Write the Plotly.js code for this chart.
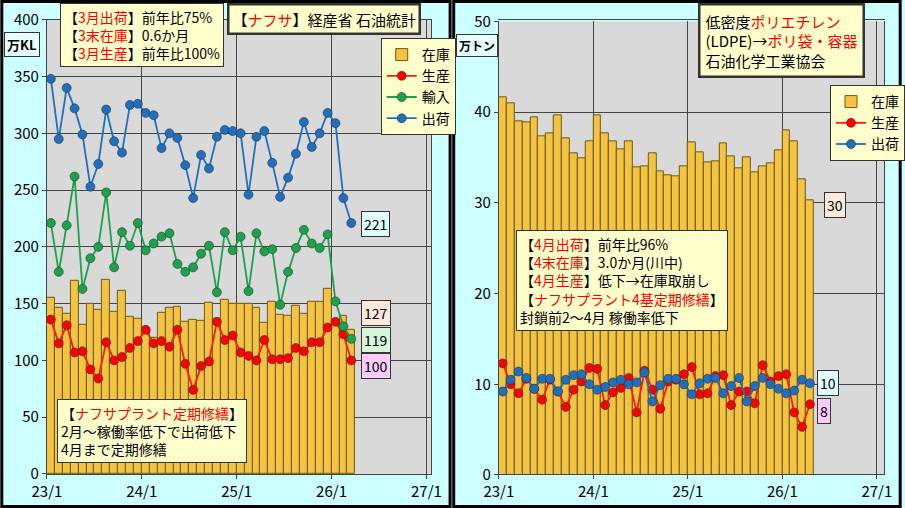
<!DOCTYPE html>
<html><head><meta charset="utf-8">
<script src="https://cdn.plot.ly/plotly-3.0.1.min.js"></script>
<style>body{margin:0;background:#ccffff}#chart{width:905px;height:508px}</style>
</head><body><div id="chart"></div>
<script>
// ナフサ (万KL), 23/1 - 26/3
var naphthaStock = [155,146,141,170,131,150,145,171,143,161,138,137,127,120,142,146,147,134,136,135,151,137,153,150,150,150,146,133,152,140,139,148,141,152,152,163,135,139,127];
var naphthaProd = [136,115,131,107,108,92,84,116,100,103,111,117,127,115,117,112,127,97,74,95,99,134,118,122,107,104,100,118,101,101,102,111,108,116,116,129,134,123,100];
var naphthaImport = [221,178,219,262,163,190,200,248,182,213,201,221,197,203,209,212,185,178,182,194,201,160,213,197,209,161,212,196,198,149,178,199,215,203,199,211,152,130,119];
var naphthaShip = [348,295,340,322,299,253,273,321,293,283,325,326,318,316,287,300,296,272,243,281,269,297,303,302,300,246,297,302,274,244,261,282,310,288,300,318,309,243,221];
// LDPE (万トン), 23/1 - 26/4
var ldpeStock = [41.6,41.0,39.0,38.9,39.4,37.3,37.7,39.6,37.1,35.4,34.9,36.8,39.6,37.7,36.8,35.9,36.8,33.9,34.0,35.5,33.5,33.0,32.9,34.0,36.7,35.6,34.5,34.6,36.5,35.1,33.8,35.0,33.4,34.0,34.4,35.8,38.0,36.8,32.6,30.3];
var ldpeProd = [12.3,10.0,9.0,10.6,9.5,8.3,10.5,9.2,7.5,9.4,10.3,11.8,11.7,7.7,9.1,9.6,10.7,6.9,11.5,9.4,7.3,10.3,10.5,11.1,11.9,8.9,9.0,10.9,11.0,7.7,9.2,9.2,7.9,12.1,10.3,10.9,11.1,6.9,5.3,7.8];
var ldpeShip = [9.2,10.5,11.4,10.7,9.5,10.6,10.6,9.2,10.5,11.0,11.1,10.0,9.4,9.7,10.2,10.5,10.0,10.2,11.3,8.1,9.9,10.6,10.6,10.0,8.9,10.1,10.6,10.7,9.0,9.8,10.7,8.1,9.8,10.7,10.0,9.5,9.0,9.3,10.5,10.1];
var tickVals = [0,12,24,36,48];
var tickText = ['23/1','24/1','25/1','26/1','27/1'];

function months(arr) { return arr.map(function(v, i) { return i + 0.5; }); }

var F = '"Noto Sans CJK JP", sans-serif';
var barStyle = {color: '#f4c343', line: {color: '#6b5a10', width: 1}};
function line(color) { return {color: color, width: 1.8}; }
function mk(color) { return {color: color, size: 9, line: {color: '#333', width: 0.6}}; }

var data = [
    {x: months(naphthaStock), y: naphthaStock, type: 'bar', name: '在庫', marker: barStyle, xaxis: 'x', yaxis: 'y', legend: 'legend'},
    {x: months(naphthaProd), y: naphthaProd, type: 'scatter', mode: 'lines+markers', name: '生産', line: line('#ff1a00'), marker: mk('#ff0000'), xaxis: 'x', yaxis: 'y', legend: 'legend'},
    {x: months(naphthaImport), y: naphthaImport, type: 'scatter', mode: 'lines+markers', name: '輸入', line: line('#1aa34a'), marker: mk('#1aa34a'), xaxis: 'x', yaxis: 'y', legend: 'legend'},
    {x: months(naphthaShip), y: naphthaShip, type: 'scatter', mode: 'lines+markers', name: '出荷', line: line('#1f6fc0'), marker: mk('#1f6fc0'), xaxis: 'x', yaxis: 'y', legend: 'legend'},
    {x: months(ldpeStock), y: ldpeStock, type: 'bar', name: '在庫', marker: barStyle, xaxis: 'x2', yaxis: 'y2', legend: 'legend2'},
    {x: months(ldpeProd), y: ldpeProd, type: 'scatter', mode: 'lines+markers', name: '生産', line: line('#ff1a00'), marker: mk('#ff0000'), xaxis: 'x2', yaxis: 'y2', legend: 'legend2'},
    {x: months(ldpeShip), y: ldpeShip, type: 'scatter', mode: 'lines+markers', name: '出荷', line: line('#1f6fc0'), marker: mk('#1f6fc0'), xaxis: 'x2', yaxis: 'y2', legend: 'legend2'}
];

function xax(domain, right) {
    return {domain: domain, range: [0, right], tickvals: tickVals, ticktext: tickText, showgrid: true,
        gridcolor: '#444', gridwidth: 1, zeroline: false, showline: true, linecolor: '#444', mirror: true,
        ticks: 'outside', ticklen: 4, tickfont: {family: F, size: 15, color: '#000'}};
}
function yax(domain, range, dtick, anchor) {
    return {domain: domain, range: range, dtick: dtick, anchor: anchor, gridcolor: '#444', gridwidth: 1,
        zeroline: false, showline: true, linecolor: '#444', mirror: true, ticks: 'outside', ticklen: 4,
        tickfont: {family: F, size: 15, color: '#000'}};
}

function box(x, y, text, opts) {
    var a = {xref: 'paper', yref: 'paper', x: x / 905, y: 1 - y / 508, xanchor: 'left', yanchor: 'top',
        text: text, showarrow: false, align: 'left', bgcolor: '#ffffcc', bordercolor: '#333', borderwidth: 1,
        borderpad: 3, font: {family: F, size: 14, color: '#000'}};
    for (var k in opts) a[k] = opts[k];
    return a;
}
function red(s) { return '<span style="color:#ff0000">' + s + '</span>'; }

var annotations = [
    box(60, 3, '【' + red('3月出荷') + '】前年比75%<br>【' + red('3末在庫') + '】0.6か月<br>【' + red('3月生産') + '】前年比100%', {}),
    box(228, 3, '【' + red('ナフサ') + '】経産省 石油統計', {borderwidth: 2.5, font: {family: F, size: 15, color: '#000'}}),
    box(57, 399, '【' + red('ナフサプラント定期修繕') + '】<br>2月～稼働率低下で出荷低下<br>4月まで定期修繕', {}),
    box(4, 32, '<b>万KL</b>', {bgcolor: '#e8ffff', font: {family: F, size: 13, color: '#000'}, borderpad: 2}),
    box(362, 211, '221', {bgcolor: '#e0ffff', borderpad: 2}),
    box(362, 300, '127', {bgcolor: '#fde9dc', borderpad: 2}),
    box(362, 327, '119', {bgcolor: '#d8f5d8', borderpad: 2}),
    box(362, 353, '100', {bgcolor: '#ffccff', borderpad: 2}),
    box(700, 3, '低密度' + red('ポリエチレン') + '<br>(LDPE)→' + red('ポリ袋・容器') + '<br>石油化学工業協会', {borderwidth: 2.5, font: {family: F, size: 15, color: '#000'}, borderpad: 5}),
    box(518, 230, '【' + red('4月出荷') + '】前年比96%<br>【' + red('4末在庫') + '】3.0か月(川中)<br>【' + red('4月生産') + '】低下→在庫取崩し<br>【' + red('ナフサプラント4基定期修繕') + '】<br>封鎖前2～4月 稼働率低下', {font: {family: F, size: 14, color: '#000'}}),
    box(458, 34, '<b>万トン</b>', {bgcolor: '#e8ffff', font: {family: F, size: 12, color: '#000'}, borderpad: 2}),
    box(827, 192, '30', {bgcolor: '#fde9dc', borderpad: 2}),
    box(820, 370, '10', {bgcolor: '#e0ffff', borderpad: 2}),
    box(820, 398, '8', {bgcolor: '#ffccff', borderpad: 2})
];

var legendBase = {bgcolor: '#ffffcc', bordercolor: '#333', borderwidth: 1, xanchor: 'left', yanchor: 'top',
    font: {family: F, size: 14, color: '#000'}, tracegroupgap: 0, itemwidth: 30};

var layout = {
    width: 905, height: 508, margin: {l: 0, r: 0, t: 0, b: 0},
    paper_bgcolor: '#ccffff', plot_bgcolor: '#d9d9d9', barmode: 'overlay', bargap: 0,
    xaxis: xax([0.052, 0.478], 48.6),
    yaxis: yax([0.067, 0.961], [0, 400], 50, 'x'),
    xaxis2: xax([0.553, 0.980], 48.9),
    yaxis2: yax([0.065, 0.958], [0, 50], 10, 'x2'),
    legend: Object.assign({x: 382 / 905, y: 1 - 38 / 508}, legendBase),
    legend2: Object.assign({x: 833 / 905, y: 1 - 85 / 508}, legendBase),
    annotations: annotations,
    shapes: [
        {type: 'rect', xref: 'paper', yref: 'paper', x0: 0.002, x1: 0.499, y0: 0.003, y1: 0.997, line: {color: '#000', width: 3}},
        {type: 'rect', xref: 'paper', yref: 'paper', x0: 0.503, x1: 0.998, y0: 0.003, y1: 0.997, line: {color: '#000', width: 3}}
    ]
};
Plotly.newPlot('chart', data, layout, {displayModeBar: false});
</script></body></html>
